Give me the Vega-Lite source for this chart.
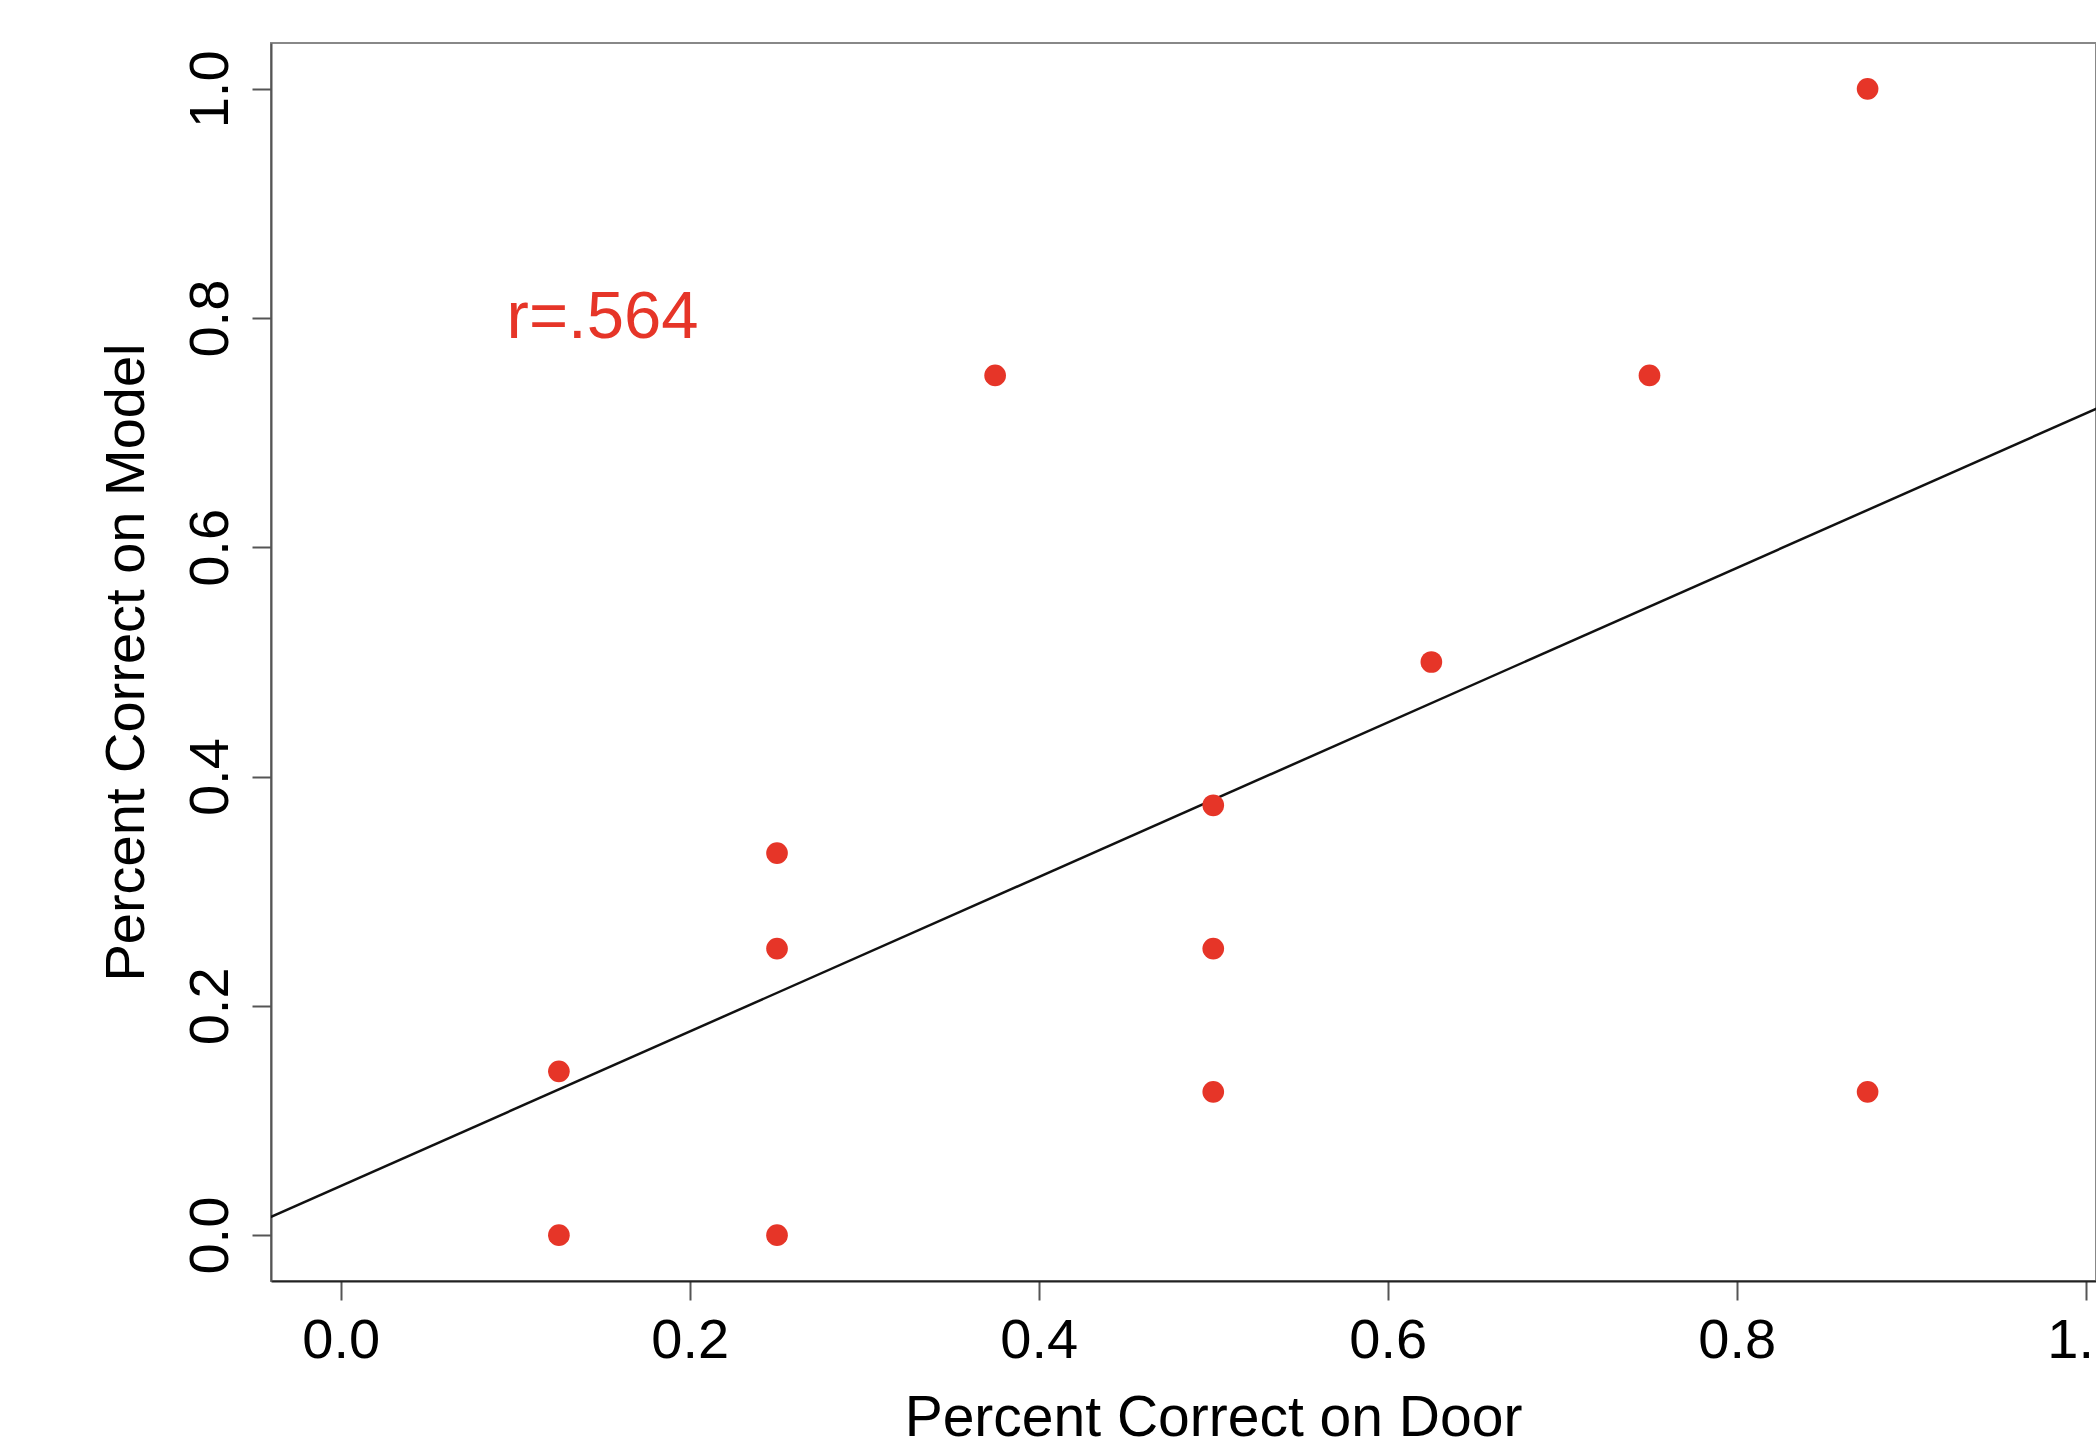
{
  "$schema": "https://vega.github.io/schema/vega-lite/v6.json",
  "autosize": {"type": "none"},
  "width": 1825,
  "height": 1238,
  "padding": {"left": 271, "top": 43, "right": 0, "bottom": 163},
  "background": "white",
  "config": {
    "font": "Liberation Sans",
    "view": {"stroke": "#888888", "strokeWidth": 2},
    "axis": {"grid": false, "labelFont": "Liberation Sans", "titleFont": "Liberation Sans", "labelColor": "#000000", "titleColor": "#000000", "titleFontWeight": "normal"}
  },
  "data": {"values": [
    {"door": 0.125, "model": 0.1429},
    {"door": 0.125, "model": 0.0},
    {"door": 0.25, "model": 0.3333},
    {"door": 0.25, "model": 0.25},
    {"door": 0.25, "model": 0.0},
    {"door": 0.375, "model": 0.75},
    {"door": 0.5, "model": 0.375},
    {"door": 0.5, "model": 0.25},
    {"door": 0.5, "model": 0.125},
    {"door": 0.625, "model": 0.5},
    {"door": 0.75, "model": 0.75},
    {"door": 0.875, "model": 1.0},
    {"door": 0.875, "model": 0.125}
  ]},
  "encoding": {
    "x": {"field": "door", "type": "quantitative",
      "scale": {"domain": [-0.04, 1.0059], "nice": false, "zero": false},
      "axis": {"title": "Percent Correct on Door", "values": [0, 0.2, 0.4, 0.6, 0.8, 1.0], "format": ".1f",
        "labelFontSize": 56, "titleFontSize": 57, "tickSize": 19, "tickWidth": 2, "tickColor": "#555555",
        "domainColor": "#222222", "domainWidth": 2, "labelPadding": 13, "titlePadding": 22, "titleX": 942, "titleAlign": "center",
        "labelFlush": false, "labelOverlap": false}},
    "y": {"field": "model", "type": "quantitative",
      "scale": {"domain": [-0.04, 1.04], "nice": false, "zero": false},
      "axis": {"title": "Percent Correct on Model", "values": [0, 0.2, 0.4, 0.6, 0.8, 1.0], "format": ".1f",
        "labelFontSize": 56, "titleFontSize": 56, "tickSize": 19, "tickWidth": 2, "tickColor": "#555555",
        "domainColor": "#555555", "domainWidth": 2, "labelAngle": -90, "labelAlign": "center", "labelBaseline": "alphabetic",
        "labelPadding": 25, "titlePadding": 27, "labelFlush": false, "labelOverlap": false}}
  },
  "layer": [
    {
      "transform": [{"regression": "model", "on": "door", "extent": [-0.1, 1.1]}],
      "mark": {"type": "line", "color": "#111111", "strokeWidth": 2.5, "clip": true}
    },
    {
      "mark": {"type": "circle", "color": "#E63528", "opacity": 1, "size": 470}
    },
    {
      "data": {"values": [{"door": 0.15, "model": 0.8, "label": "r=.564"}]},
      "mark": {"type": "text", "color": "#E63528", "fontSize": 67, "align": "center", "baseline": "middle", "font": "Liberation Sans"},
      "encoding": {"text": {"field": "label"}}
    }
  ]
}
